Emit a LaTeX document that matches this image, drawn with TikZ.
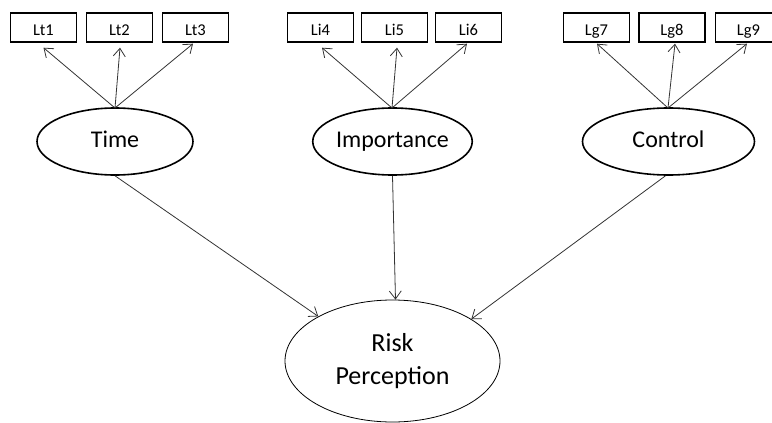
\documentclass[tikz,border=0pt]{standalone}
\usepackage{fontspec}
\setmainfont{Carlito}
\usetikzlibrary{shapes.geometric,arrows.meta}
\begin{document}
\begin{tikzpicture}[x=1pt,y=-1pt,
  indicator/.style={draw,line width=1.4pt,minimum width=66pt,minimum height=29pt,inner sep=0pt,
    text height=15pt,text depth=0pt,font=\fontsize{16.5}{19}\selectfont},
  latent/.style={draw,ellipse,line width=1.6pt,minimum width=156pt,minimum height=67pt,inner sep=0pt,
    text height=11pt,text depth=0pt,font=\fontsize{24}{28}\selectfont},
  outcome/.style={draw,ellipse,line width=0.8pt,minimum width=215pt,minimum height=122pt,inner sep=0pt,
    align=center,font=\fontsize{26}{33}\selectfont},
  path/.style={draw=black!80,line width=0.8pt,-{Straight Barb[length=8pt,width=12pt,line width=0.8pt]}}]
\useasboundingbox (0,0) rectangle (772,423);
\begin{scope}
\clip (0,0) rectangle (772,423);
% indicator boxes
\node[indicator] (lt1) at (43.5,27.5) {Lt1};
\node[indicator] (lt2) at (119.5,27.5) {Lt2};
\node[indicator] (lt3) at (195.5,27.5) {Lt3};
\node[indicator] (li4) at (320.5,27.5) {Li4};
\node[indicator] (li5) at (394.5,27.5) {Li5};
\node[indicator] (li6) at (468.5,27.5) {Li6};
\node[indicator] (lg7) at (596.5,27.5) {Lg7};
\node[indicator] (lg8) at (672,27.5) {Lg8};
\node[indicator] (lg9) at (748.5,27.5) {Lg9};
% latent factors
\node[latent] (time) at (115,141.5) {Time};
\node[latent] (imp) at (392.5,141.5) {Importance};
\node[latent,minimum width=172pt] (ctrl) at (668.5,141.5) {Control};
\node[outcome] (risk) at (392.5,361) {Risk\\Perception};
% loadings
\coordinate (tt) at (115,108);
\coordinate (it) at (392,108);
\coordinate (ct) at (668,108);
\draw[path] (tt) -- ([yshift=-5pt]lt1.south);
\draw[path] (tt) -- ([xshift=0.5pt,yshift=-5pt]lt2.south);
\draw[path] (tt) -- ([xshift=-2.5pt,yshift=-1pt]lt3.south);
\draw[path] (it) -- ([xshift=1.5pt,yshift=-5pt]li4.south);
\draw[path] (it) -- ([xshift=2.5pt,yshift=-5pt]li5.south);
\draw[path] (it) -- ([xshift=-1.5pt,yshift=-1pt]li6.south);
\draw[path] (ct) -- ([xshift=0.5pt,yshift=-1pt]lg7.south);
\draw[path] (ct) -- ([xshift=3pt,yshift=-1pt]lg8.south);
\draw[path] (ct) -- ([xshift=-1.5pt,yshift=-1pt]lg9.south);
% structural paths
\draw[path] (time.south) -- (risk.149);
\draw[path] (imp.south) -- ([xshift=3pt]risk.north);
\draw[path] (ctrl.-95) -- (risk.28);
\end{scope}
\end{tikzpicture}
\end{document}
